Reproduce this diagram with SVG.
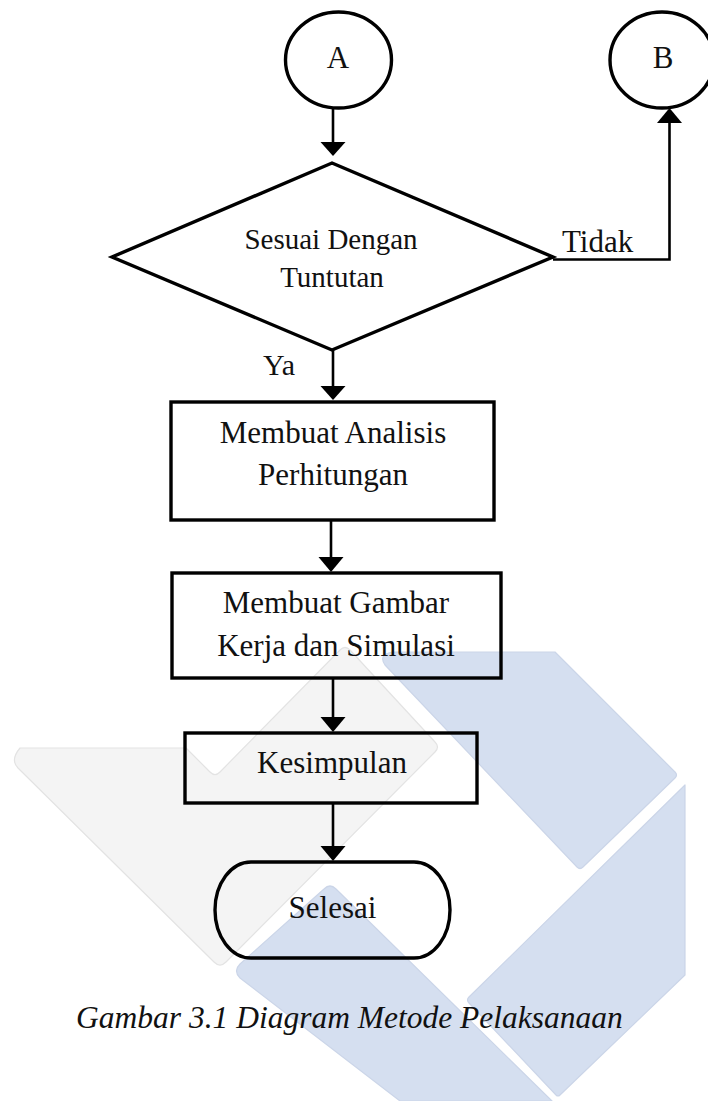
<svg xmlns="http://www.w3.org/2000/svg" width="708" height="1101" viewBox="0 0 708 1101">
<style>
.wm-gray{fill:#f4f4f4;stroke:#e3e3e3;stroke-width:1.2;stroke-linejoin:round}
.wm-blue{fill:#d5dff0;stroke:#cbd5e8;stroke-width:1.2;stroke-linejoin:round}
.shape{fill:none;stroke:#000;stroke-width:3.4;stroke-linejoin:miter}
.conn{fill:none;stroke:#000;stroke-width:2.6}
.head{fill:#000;stroke:none}
.t{font-family:"Liberation Serif","Times New Roman",serif;font-size:31px;fill:#111;text-anchor:middle}
.cap{font-family:"Liberation Serif","Times New Roman",serif;font-size:31.5px;font-style:italic;fill:#111}
</style>
<rect width="708" height="1101" fill="#fff"/>
<g id="watermark">
<path class="wm-gray" d="M20,748 H186 L210,772 Q215,777 220,772 L340,650 Q345,645 350,650 L435,742 Q440,747 435,752 L226,962 Q220,968 214,962 L18,768 Q10,760 20,748 Z"/>
<path class="wm-blue" d="M392,652 H555 L675,772 Q678,775 675,778 L583,867 Q580,870 577,867 L385,665 Q378,655 392,652 Z"/>
<path class="wm-blue" d="M685,785 V975 L560,1095 Q558,1097 556,1095 L469,1003 Q466,1000 469,997 Z"/>
<path class="wm-blue" d="M324,889 Q330,883 336,889 L552,1101 H400 L240,978 Q233,971 240,964 Z"/>
</g>
<g id="connectors">
<line class="conn" x1="333" y1="108" x2="333" y2="144"/>
<polygon class="head" points="320.5,142 345.5,142 333,156"/>
<path class="conn" d="M553,259.5 H669.5 V121"/>
<polygon class="head" points="657,123 682,123 669.5,108"/>
<line class="conn" x1="333" y1="350" x2="333" y2="388"/>
<polygon class="head" points="320.5,386 345.5,386 333,400"/>
<line class="conn" x1="331" y1="520" x2="331" y2="559"/>
<polygon class="head" points="318.5,557 343.5,557 331,572"/>
<line class="conn" x1="333" y1="678" x2="333" y2="719"/>
<polygon class="head" points="320.5,717 345.5,717 333,732"/>
<line class="conn" x1="333" y1="803" x2="333" y2="848"/>
<polygon class="head" points="320.5,846 345.5,846 333,861"/>
</g>
<g id="node-A">
<ellipse class="shape" cx="338.5" cy="60" rx="53" ry="48"/>
<text class="t" x="338" y="68">A</text>
</g>
<g id="node-B">
<ellipse class="shape" cx="662" cy="60" rx="52" ry="48"/>
<text class="t" x="663" y="68">B</text>
</g>
<g id="node-decision">
<polygon class="shape" points="332,163 553,257 332,350 112,257"/>
<text class="t" x="331" y="249" style="font-size:29px">Sesuai Dengan</text>
<text class="t" x="332" y="287" style="font-size:29px">Tuntutan</text>
</g>
<g id="label-tidak">
<text class="t" x="562" y="252" style="text-anchor:start">Tidak</text>
</g>
<g id="label-ya">
<text class="t" x="263" y="375" style="text-anchor:start;font-size:30px">Ya</text>
</g>
<g id="node-analisis">
<rect class="shape" x="171" y="402" width="323" height="118"/>
<text class="t" x="333" y="443">Membuat Analisis</text>
<text class="t" x="333" y="485">Perhitungan</text>
</g>
<g id="node-gambar">
<rect class="shape" x="172" y="573" width="329" height="105"/>
<text class="t" x="336" y="613">Membuat Gambar</text>
<text class="t" x="336" y="656">Kerja dan Simulasi</text>
</g>
<g id="node-kesimpulan">
<rect class="shape" x="185" y="733" width="292" height="70"/>
<text class="t" x="332" y="773">Kesimpulan</text>
</g>
<g id="node-selesai">
<rect class="shape" x="215" y="862" width="235" height="96" rx="36" ry="48"/>
<text class="t" x="332.5" y="918">Selesai</text>
</g>
<g id="caption">
<text class="cap" x="76" y="1028">Gambar 3.1 Diagram Metode Pelaksanaan</text>
</g>
</svg>
